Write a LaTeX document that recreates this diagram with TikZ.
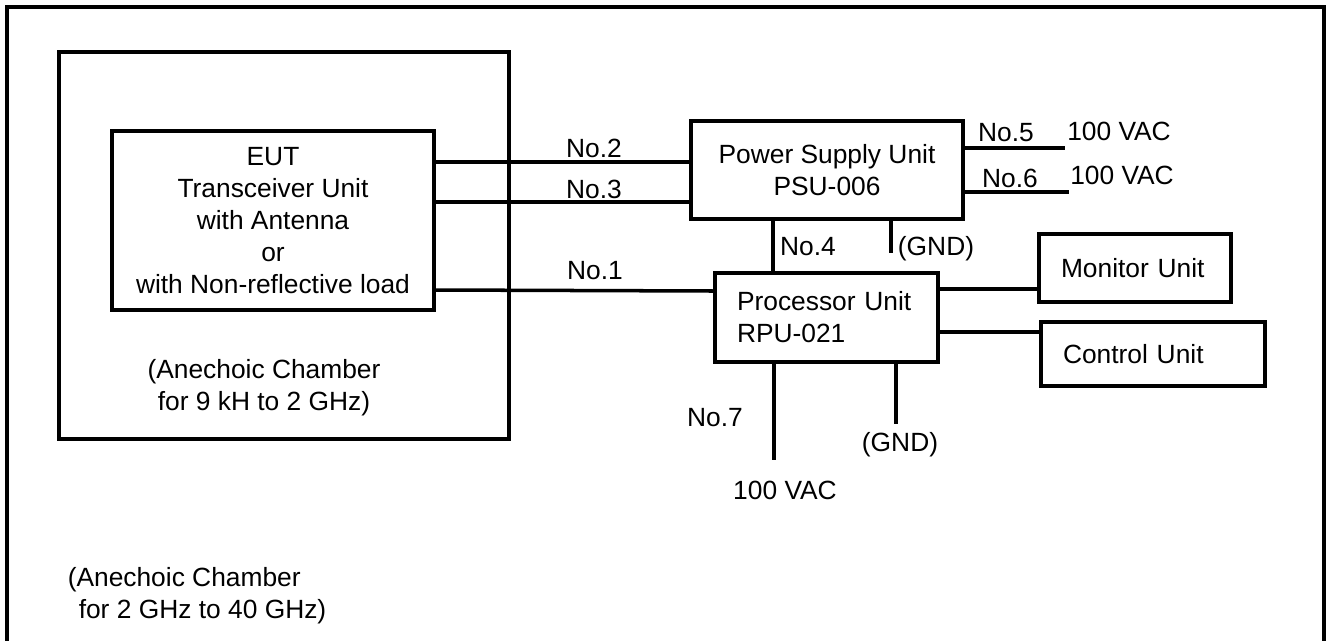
\documentclass[tikz,border=0pt]{standalone}
\usepackage{fontspec}
\setmainfont{Liberation Sans}
\usetikzlibrary{positioning}
\newcommand{\pxl}{0.02cm}
\tikzset{
  every picture/.style={line width=2pt},
  txt/.style={font=\fontsize{15}{18.2}\selectfont},
  unit/.style={draw, txt, align=center, inner sep=0pt},
  size/.style 2 args={minimum width=#1*\pxl, minimum height=#2*\pxl},
  lefttext/.style={inner xsep=22*\pxl, text width=#1*\pxl, align=left},
  lbl/.style={txt, inner sep=0pt},
  cable/.style={line width=2pt},
}

\begin{document}
\begin{tikzpicture}[x=\pxl, y=-\pxl]
  \useasboundingbox (0,0) rectangle (1332,640);
  % outer chamber (no bottom edge)
  \draw (7,660) -- (7,7) -- (1324,7) -- (1324,660);
  \node[lbl, align=left, anchor=west] (roomtxt) at (66,596) {(Anechoic Chamber\\\hspace*{0.22cm}for 2 GHz to 40 GHz)};

  % inner chamber with EUT
  \node[unit, size={450}{387}] (chamber) at (284,245.5) {};
  \node[lbl, align=center] (chambertxt) at (264,388) {(Anechoic Chamber\\for 9 kH to 2 GHz)};
  \node[unit, size={322}{179}] (eut) at (273,220.5) {EUT\\Transceiver Unit\\with Antenna\\or\\with Non-reflective load};

  % units
  \node[unit, size={272}{98}] (psu) at (827,170) {Power Supply Unit\\PSU-006};
  \node[unit, size={223}{89}, lefttext=179] (rpu) at (826.5,317.5) {Processor Unit\\RPU-021};
  \node[unit, size={192}{68}, lefttext=148] (monitor) at (1135,268) {Monitor Unit};
  \node[unit, size={224}{64}, lefttext=180] (control) at (1153,354) {Control Unit};

  % cables EUT -> PSU
  \foreach \y/\n/\ly in {162/2/148, 202/3/189} {
    \draw[cable] (eut.east |- 0,\y) -- (psu.west |- 0,\y);
    \node[lbl] (no\n) at (594,\ly) {No.\n};
  }
  \draw[cable] (eut.east |- 0,290) -- (rpu.west |- 0,291);
  \node[lbl] (no1) at (595,271) {No.1};

  % PSU <-> processor, ground
  \draw[cable] (psu.south -| 773,0) -- (rpu.north -| 773,0);
  \node[lbl] (no4) at (808,247) {No.4};
  \coordinate (gnda) at (891,253);
  \draw[cable] (psu.south -| gnda) -- (gnda);
  \node[lbl] (gndatxt) at (936,249) {(GND)};

  % mains to PSU
  \foreach \n/\x/\y/\lx/\ly/\vx/\vy in {5/1065/148/1006/133/1119/131, 6/1069/192/1010/178/1122/175} {
    \coordinate (ac\n) at (\x,\y);
    \draw[cable] (psu.east |- ac\n) -- (ac\n);
    \node[lbl] (no\n) at (\lx,\ly) {No.\n};
    \node[lbl] (vac\n) at (\vx,\vy) {100 VAC};
  }

  % processor to monitor / control
  \draw[cable] (rpu.east |- 0,289) -- (monitor.west |- 0,289);
  \draw[cable] (rpu.east |- 0,332) -- (control.west |- 0,332);

  % processor mains and ground
  \coordinate (ac7) at (774,460);
  \draw[cable] (rpu.south -| ac7) -- (ac7);
  \node[lbl] (no7) at (715,418) {No.7};
  \node[lbl] (vac7) at (785,490) {100 VAC};
  \coordinate (gndb) at (896,424);
  \draw[cable] (rpu.south -| gndb) -- (gndb);
  \node[lbl] (gndbtxt) at (900,445) {(GND)};
\end{tikzpicture}
\end{document}
